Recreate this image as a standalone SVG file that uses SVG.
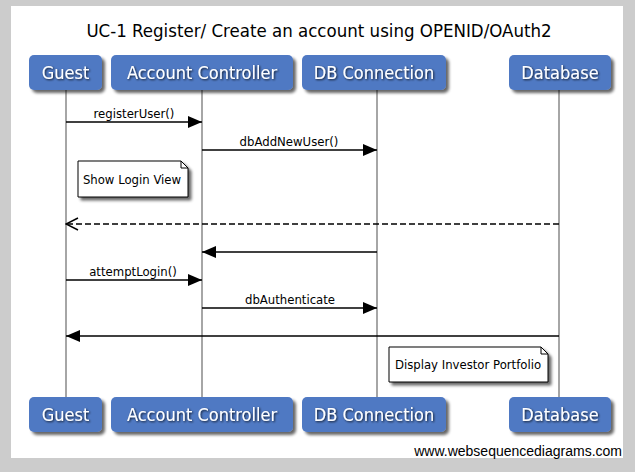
<svg xmlns="http://www.w3.org/2000/svg" width="635" height="472" viewBox="0 0 635 472">
<style>
.box{fill:#5079c3;}
.lbl{font-family:"DejaVu Sans Condensed","Liberation Sans",sans-serif;font-size:18px;fill:#fff;text-anchor:middle;}
.life{stroke:#888;stroke-width:1.5;}
.msg{stroke:#000;stroke-width:1.5;fill:none;}
.mt{font-family:"DejaVu Sans Condensed","Liberation Sans",sans-serif;font-size:13px;fill:#000;text-anchor:middle;}
.note{fill:#fff;stroke:#000;stroke-width:1;}
</style>
<defs>
<filter id="sh" x="-20%" y="-20%" width="150%" height="160%">
<feGaussianBlur in="SourceAlpha" stdDeviation="1.5"/>
<feOffset dx="3" dy="3" result="b"/>
<feComponentTransfer><feFuncA type="linear" slope="0.6"/></feComponentTransfer>
<feMerge><feMergeNode/><feMergeNode in="SourceGraphic"/></feMerge>
</filter>
<filter id="ts" x="-10%" y="-30%" width="120%" height="160%">
<feGaussianBlur in="SourceAlpha" stdDeviation="0.8"/>
<feOffset dx="1" dy="1"/>
<feComponentTransfer><feFuncA type="linear" slope="0.8"/></feComponentTransfer>
<feMerge><feMergeNode/><feMergeNode in="SourceGraphic"/></feMerge>
</filter>
<marker id="fa" markerWidth="14" markerHeight="12" refX="14" refY="6" orient="auto" markerUnits="userSpaceOnUse">
<path d="M0,0 L14,6 L0,12 Z" fill="#000"/>
</marker>
<marker id="oa" markerWidth="14" markerHeight="14" refX="13" refY="7" orient="auto" markerUnits="userSpaceOnUse">
<path d="M1,1 L13,7 L1,13" fill="none" stroke="#000" stroke-width="1.5"/>
</marker>
</defs>
<rect x="0" y="0" width="635" height="472" fill="#cccccc"/>
<rect x="11" y="6" width="612" height="452" fill="#fff"/>
<text x="319" y="37" font-family="DejaVu Sans Condensed,Liberation Sans,sans-serif" font-size="18.5" text-anchor="middle" fill="#000">UC-1 Register/ Create an account using OPENID/OAuth2</text>

<g id="lifelines">
<line class="life" x1="66" y1="90" x2="66" y2="397"/>
<line class="life" x1="202" y1="90" x2="202" y2="397"/>
<line class="life" x1="377" y1="90" x2="377" y2="397"/>
<line class="life" x1="559" y1="90" x2="559" y2="397"/>
</g>

<g id="guest-top"><rect class="box" x="29" y="55" width="73" height="35" rx="5" filter="url(#sh)"/><text class="lbl" x="65.5" y="79" filter="url(#ts)">Guest</text></g>
<g id="ac-top"><rect class="box" x="111" y="55" width="182" height="35" rx="5" filter="url(#sh)"/><text class="lbl" x="202" y="79" filter="url(#ts)">Account Controller</text></g>
<g id="dbc-top"><rect class="box" x="302" y="55" width="144" height="35" rx="5" filter="url(#sh)"/><text class="lbl" x="374" y="79" filter="url(#ts)">DB Connection</text></g>
<g id="db-top"><rect class="box" x="509" y="55" width="102" height="35" rx="5" filter="url(#sh)"/><text class="lbl" x="560" y="79" filter="url(#ts)">Database</text></g>

<g id="guest-bot"><rect class="box" x="29" y="397" width="73" height="35" rx="5" filter="url(#sh)"/><text class="lbl" x="65.5" y="421" filter="url(#ts)">Guest</text></g>
<g id="ac-bot"><rect class="box" x="111" y="397" width="182" height="35" rx="5" filter="url(#sh)"/><text class="lbl" x="202" y="421" filter="url(#ts)">Account Controller</text></g>
<g id="dbc-bot"><rect class="box" x="302" y="397" width="144" height="35" rx="5" filter="url(#sh)"/><text class="lbl" x="374" y="421" filter="url(#ts)">DB Connection</text></g>
<g id="db-bot"><rect class="box" x="509" y="397" width="102" height="35" rx="5" filter="url(#sh)"/><text class="lbl" x="560" y="421" filter="url(#ts)">Database</text></g>

<g id="connectors">
<line class="msg" x1="66" y1="122" x2="202" y2="122" marker-end="url(#fa)"/>
<text class="mt" x="134" y="118">registerUser()</text>
<line class="msg" x1="202" y1="150" x2="377" y2="150" marker-end="url(#fa)"/>
<text class="mt" x="289" y="146">dbAddNewUser()</text>
<line class="msg" x1="559" y1="224" x2="66" y2="224" stroke-dasharray="6,3" marker-end="url(#oa)"/>
<line class="msg" x1="377" y1="252" x2="202" y2="252" marker-end="url(#fa)"/>
<line class="msg" x1="66" y1="280" x2="202" y2="280" marker-end="url(#fa)"/>
<text class="mt" x="133" y="276">attemptLogin()</text>
<line class="msg" x1="202" y1="308" x2="377" y2="308" marker-end="url(#fa)"/>
<text class="mt" x="290" y="304">dbAuthenticate</text>
<line class="msg" x1="559" y1="336" x2="66" y2="336" marker-end="url(#fa)"/>
</g>

<g id="note-login">
<path class="note" d="M78,161 H181 L188,168 V197 H78 Z" filter="url(#sh)"/>
<path d="M181,161 V168 H188" fill="none" stroke="#000" stroke-width="1"/>
<text class="mt" x="132" y="184">Show Login View</text>
</g>
<g id="note-portfolio">
<path class="note" d="M389,347 H541 L548,354 V382 H389 Z" filter="url(#sh)"/>
<path d="M541,347 V354 H548" fill="none" stroke="#000" stroke-width="1"/>
<text class="mt" x="468" y="369">Display Investor Portfolio</text>
</g>

<text x="622" y="456" font-family="Liberation Sans,Arial,sans-serif" font-size="14" text-anchor="end" fill="#000">www.websequencediagrams.com</text>
</svg>
